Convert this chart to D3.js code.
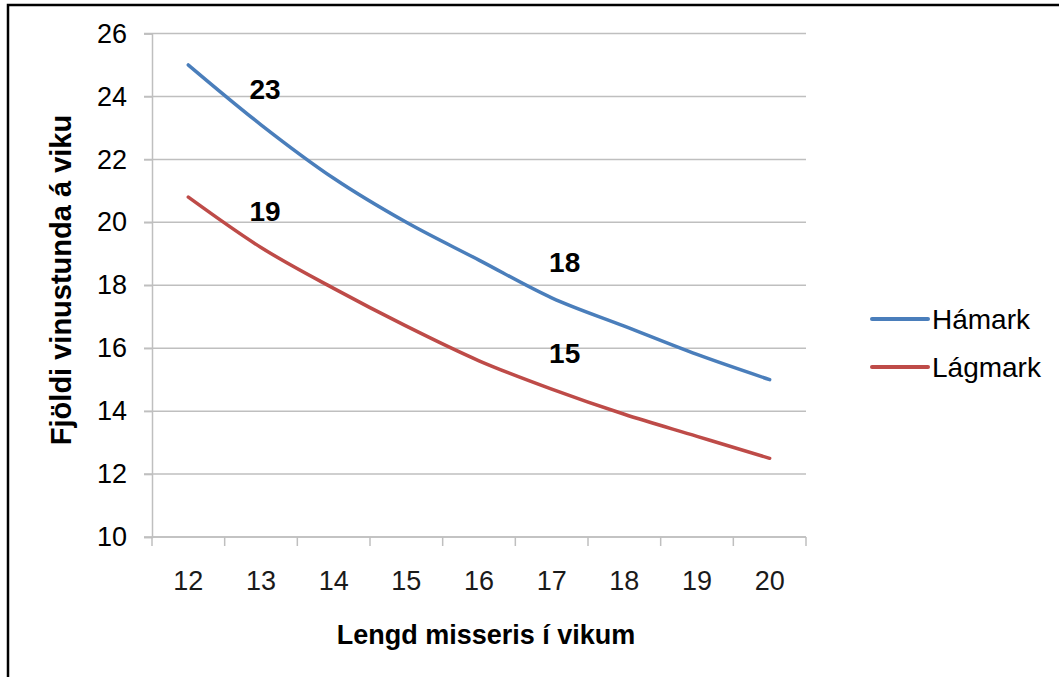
<!DOCTYPE html>
<html>
<head>
<meta charset="utf-8">
<script src="https://cdn.jsdelivr.net/npm/d3@7"></script>
<style>
  body { margin: 0; background: #fff; }
  text { font-family: "Liberation Sans", Arial, sans-serif; fill: #000; }
</style>
</head>
<body>
<div id="chart"></div>
<script>
const width = 1059;
const height = 677;
const margin = { top: 33.5, right: 253, bottom: 140, left: 152 };

// data
const weeks = ["12", "13", "14", "15", "16", "17", "18", "19", "20"];
const hamark = [25, 23.1, 21.4, 20, 18.8, 17.6, 16.7, 15.8, 15];
const lagmark = [20.8, 19.2, 17.9, 16.7, 15.6, 14.7, 13.9, 13.2, 12.5];
const yTicks = [10, 12, 14, 16, 18, 20, 22, 24, 26];
const seriesNames = ["Hámark", "Lágmark"];
const seriesColors = ["#4a7ebb", "#be4b48"];
const noteLabels = ["23", "19", "18", "15"];
const noteWeeks = ["13", "13", "17", "17"];
const noteSeries = [0, 1, 0, 1];

const series = [hamark, lagmark];

const svg = d3
  .select("#chart")
  .append("svg")
  .attr("width", width)
  .attr("height", height);

// outer frame (only top and left edges show)
svg
  .append("rect")
  .attr("x", 8)
  .attr("y", 5)
  .attr("width", 1200)
  .attr("height", 900)
  .attr("fill", "none")
  .attr("stroke", "#000")
  .attr("stroke-width", 2.5);

const innerW = width - margin.left - margin.right;
const innerH = height - margin.top - margin.bottom;

const g = svg
  .append("g")
  .attr("transform", `translate(${margin.left},${margin.top})`);

const x = d3.scaleBand().domain(weeks).range([0, innerW]);
const y = d3.scaleLinear().domain([10, 26]).range([innerH, 0]);

// gridlines
g.selectAll(".grid")
  .data(yTicks)
  .enter()
  .append("line")
  .attr("class", "grid")
  .attr("x1", -8)
  .attr("x2", innerW)
  .attr("y1", (d) => y(d))
  .attr("y2", (d) => y(d))
  .attr("stroke", "#bfbfbf")
  .attr("stroke-width", 1.5);

// y axis
const yAxis = g
  .append("g")
  .call(d3.axisLeft(y).tickValues(yTicks).tickSize(8).tickPadding(17));
yAxis.select(".domain").attr("stroke", "#bfbfbf").attr("stroke-width", 1.5);
yAxis.selectAll(".tick line").attr("stroke", "#bfbfbf").attr("stroke-width", 1.5);
yAxis
  .selectAll(".tick text")
  .attr("font-family", "Liberation Sans, Arial, sans-serif")
  .style("font-size", "27px")
  .attr("fill", "#1a1a1a");

// x axis, ticks between categories
const xAxis = g.append("g").attr("transform", `translate(0,${innerH})`);
xAxis
  .append("line")
  .attr("x1", 0)
  .attr("x2", innerW)
  .attr("stroke", "#bfbfbf")
  .attr("stroke-width", 1.5);
xAxis
  .selectAll(".xtick")
  .data(weeks.concat(["end"]))
  .enter()
  .append("line")
  .attr("class", "xtick")
  .attr("x1", (d, i) => i * x.step())
  .attr("x2", (d, i) => i * x.step())
  .attr("y1", 0)
  .attr("y2", 9)
  .attr("stroke", "#bfbfbf")
  .attr("stroke-width", 1.5);
xAxis
  .selectAll(".xlabel")
  .data(weeks)
  .enter()
  .append("text")
  .attr("class", "xlabel")
  .attr("x", (d) => x(d) + x.bandwidth() / 2)
  .attr("y", 53)
  .attr("text-anchor", "middle")
  .style("font-size", "27px")
  .style("fill", "#1a1a1a")
  .text((d) => d);

// lines
const line = d3
  .line()
  .x((d, i) => x(weeks[i]) + x.bandwidth() / 2)
  .y((d) => y(d))
  .curve(d3.curveMonotoneX);

series.forEach((s, i) => {
  g.append("path")
    .datum(s)
    .attr("fill", "none")
    .attr("stroke", seriesColors[i])
    .attr("stroke-width", 3.5)
    .attr("stroke-linecap", "round")
    .attr("d", line);
});

// value notes
const noteDx = [4, 4, 13, 13];
noteLabels.forEach((label, i) => {
  const s = series[noteSeries[i]];
  const v = s[weeks.indexOf(noteWeeks[i])];
  g.append("text")
    .attr("x", x(noteWeeks[i]) + x.bandwidth() / 2 + noteDx[i])
    .attr("y", y(v) - 26)
    .attr("text-anchor", "middle")
    .style("font-size", "28px")
    .style("font-weight", "bold")
    .text(label);
});

// axis titles
svg
  .append("text")
  .attr("x", 486)
  .attr("y", 644)
  .attr("text-anchor", "middle")
  .style("font-size", "27px")
  .style("font-weight", "bold")
  .text("Lengd misseris í vikum");

svg
  .append("text")
  .attr("transform", "translate(71,280) rotate(-90)")
  .attr("text-anchor", "middle")
  .style("font-size", "29px")
  .style("font-weight", "bold")
  .text("Fjöldi vinustunda á viku");

// legend
const legend = svg.append("g").attr("transform", "translate(872,319)");
seriesNames.forEach((name, i) => {
  const row = legend.append("g").attr("transform", `translate(0,${i * 48})`);
  row
    .append("line")
    .attr("x1", 0)
    .attr("x2", 56)
    .attr("stroke", seriesColors[i])
    .attr("stroke-width", 4)
    .attr("stroke-linecap", "round");
  row
    .append("text")
    .attr("x", 60)
    .attr("y", 10)
    .style("font-size", "28px")
    .text(name);
});
</script>
</body>
</html>
